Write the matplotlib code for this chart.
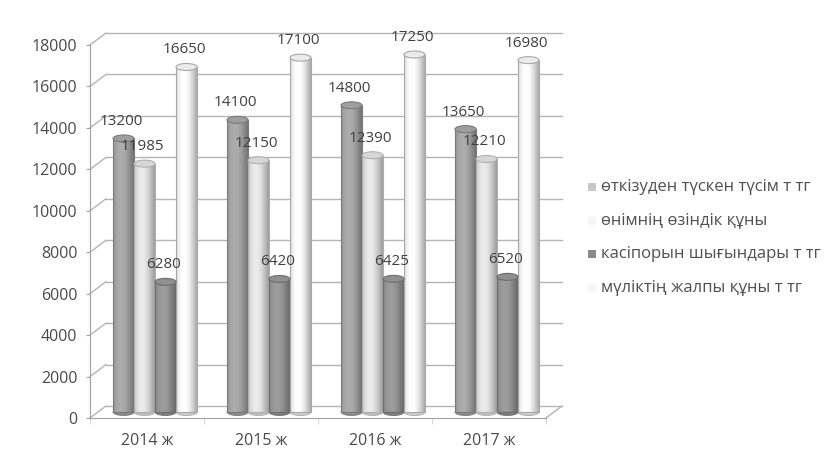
import numpy as np
import matplotlib
matplotlib.use("Agg")
import matplotlib.pyplot as plt
from matplotlib.patches import Ellipse, Rectangle

plt.rcParams['font.family'] = ['Open Sans', 'DejaVu Sans']

categories = ["2014 ж", "2015 ж", "2016 ж", "2017 ж"]
series_names = ["өткізуден түскен түсім т тг",
                "өнімнің өзіндік құны",
                "касіпорын шығындары т тг",
                "мүліктің жалпы құны т тг"]
revenue = [13200, 14100, 14800, 13650]
cost = [11985, 12150, 12390, 12210]
expenses = [6280, 6420, 6425, 6520]
assets = [16650, 17100, 17250, 16980]
yticks = list(range(0, 18001, 2000))

series = [revenue, cost, expenses, assets]
base_gray = [0.64, 0.87, 0.58, 0.95]
edge_cols = ["#7a7a7a", "#b0b0b0", "#6e6e6e", "#a8a8a8"]
legend_cols = ["#c8c8c8", "#f4f4f4", "#8a8a8a", "#f7f7f7"]

W, Hpx = 836, 461
fig = plt.figure(figsize=(W / 100, Hpx / 100), dpi=100)
ymax = 19000
ax_h = ymax / 18000 * 373 / Hpx
ax = fig.add_axes([90 / W, 43 / Hpx, 456 / W, ax_h])
ax.set_xlim(-0.5, 3.5)
ax.set_ylim(0, ymax)

upx = 114.0                     # pixels per category
dxu = 16 / upx                  # depth offset x (data units)
dyu = 12 * 18000 / 373          # depth offset y (data units)
base = 6 * 18000 / 373          # bars sit mid-depth
shift = 8 / upx

grid_c = "#b4b4b4"
# back wall gridlines and slanted connectors
for v in yticks:
    ax.plot([-0.5 + dxu, 3.5 + dxu], [v + dyu, v + dyu], color=grid_c, lw=1,
            clip_on=False, zorder=1)
    ax.plot([-0.5, -0.5 + dxu], [v, v + dyu], color=grid_c, lw=1,
            clip_on=False, zorder=1)
ax.plot([3.5, 3.5 + dxu], [0, dyu], color=grid_c, lw=1, clip_on=False, zorder=1)

width = 0.184
x = np.arange(len(categories))
t = np.linspace(0, 1, 64)
prof = np.cos((t - 0.38) * np.pi * 0.95)
cap_h = 7 * 18000 / 373

for i, (vals, g, ec) in enumerate(zip(series, base_gray, edge_cols)):
    pos = x + shift + (i - 1.5) * width
    bars = ax.bar(pos, vals, width, bottom=base, fill=False, edgecolor=ec,
                  lw=0.8, zorder=4, label=series_names[i])
    shade = np.clip(g * (0.78 + 0.28 * prof), 0, 1)
    for b, val in zip(bars, vals):
        x0, w = b.get_x(), b.get_width()
        y0, h = b.get_y(), b.get_height()
        ax.add_patch(Ellipse((x0 + w / 2, y0), w, cap_h, facecolor=str(g * 0.85),
                             edgecolor=ec, lw=0.6, zorder=2))
        ax.imshow(shade[np.newaxis, :], cmap='gray', vmin=0, vmax=1,
                  extent=(x0, x0 + w, y0, y0 + h), aspect='auto',
                  interpolation='bicubic', zorder=3)
        ax.add_patch(Ellipse((x0 + w / 2, y0 + h), w, cap_h,
                             facecolor=str(min(1, g * 0.97)), edgecolor=ec,
                             lw=0.8, zorder=5))
        ax.annotate(f"{val}", (x0 + w / 2, y0 + h), xytext=(-2, 17),
                    textcoords='offset pixels', ha='center', va='center',
                    fontsize=11, color="#404040", zorder=6)

ax.set_xlim(-0.5, 3.5)
ax.set_ylim(0, ymax)

for s in ["top", "right"]:
    ax.spines[s].set_visible(False)
ax.spines["left"].set_bounds(0, 18000)
ax.spines["left"].set_color("#a0a0a0")
ax.spines["bottom"].set_color("#a0a0a0")

ax.set_yticks(yticks)
ax.set_yticklabels([str(v) for v in yticks])
ax.tick_params(axis='y', length=3, color="#a0a0a0", labelsize=11.5,
               labelcolor="#4a4a4a", pad=6)
ax.set_xticks(x)
ax.set_xticklabels(categories)
ax.tick_params(axis='x', length=0, labelsize=11.5, labelcolor="#4a4a4a", pad=11)
ax.set_xticks(np.arange(-0.5, 3.6, 1), minor=True)
ax.tick_params(axis='x', which='minor', length=4, color="#d0d0d0")

# legend
ly = [187, 221, 254, 288]
for name, c, yy in zip(series_names, legend_cols, ly):
    fig.patches.append(Rectangle((588 / W, 1 - (yy + 4) / Hpx), 8 / W, 8 / Hpx,
                                 transform=fig.transFigure, facecolor=c,
                                 edgecolor='none'))
    fig.text(601 / W, 1 - yy / Hpx, name, fontsize=12, color="#505050",
             ha='left', va='center')

fig.savefig("out.png", dpi=100, facecolor="white")
